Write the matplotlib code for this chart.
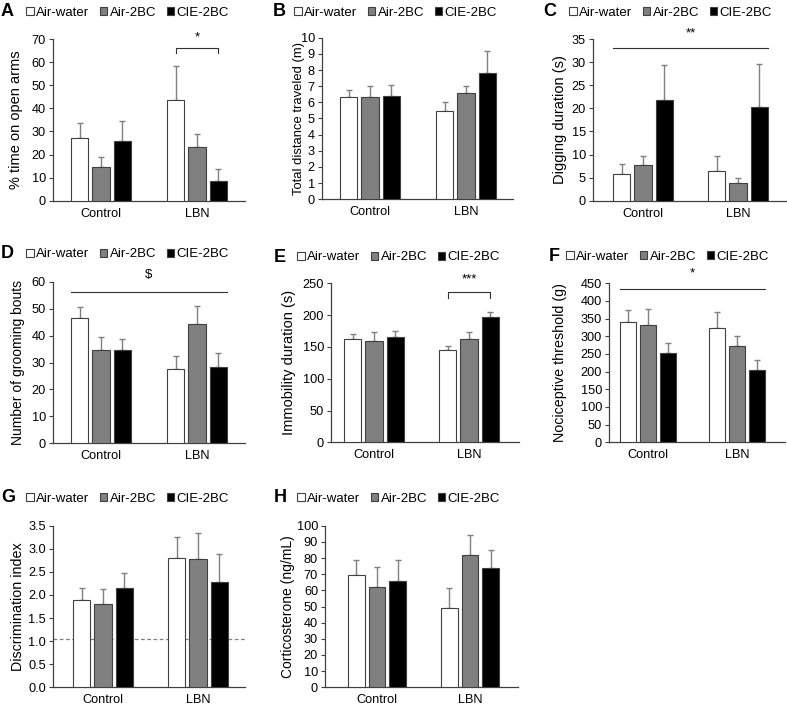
import matplotlib
matplotlib.use("Agg")
import matplotlib.pyplot as plt
from matplotlib.patches import Patch
import numpy as np

plt.rcParams["font.family"] = ["Liberation Sans", "DejaVu Sans"]

GROUPS = ["Control", "LBN"]
SERIES = ["Air-water", "Air-2BC", "CIE-2BC"]

# values per panel: rows = series (Air-water, Air-2BC, CIE-2BC), cols = groups
A_MEAN = [[27.0, 43.7], [14.7, 23.3], [25.7, 8.5]]
A_ERR = [[6.8, 14.5], [4.1, 5.7], [8.8, 5.3]]
B_MEAN = [[6.35, 5.45], [6.35, 6.6], [6.4, 7.8]]
B_ERR = [[0.4, 0.55], [0.65, 0.4], [0.7, 1.4]]
C_MEAN = [[5.7, 6.4], [7.7, 3.8], [21.9, 20.3]]
C_ERR = [[2.3, 3.2], [2.0, 1.1], [7.4, 9.2]]
D_MEAN = [[46.5, 27.5], [34.5, 44.2], [34.5, 28.2]]
D_ERR = [[4.0, 5.0], [4.8, 6.8], [4.2, 5.5]]
E_MEAN = [[163, 145], [159, 163], [166, 197]]
E_ERR = [[8, 6], [15, 10], [9, 8]]
F_MEAN = [[340, 323], [333, 273], [252, 206]]
F_ERR = [[35, 46], [45, 27], [30, 28]]
G_MEAN = [[1.88, 2.80], [1.80, 2.78], [2.15, 2.27]]
G_ERR = [[0.27, 0.45], [0.32, 0.57], [0.33, 0.61]]
H_MEAN = [[69.5, 49.0], [62.0, 82.0], [65.5, 74.0]]
H_ERR = [[9.5, 12.5], [12.5, 12.5], [13.0, 11.0]]

W, H = 787, 707
FILLS = ["white", "#808080", "black"]
EDGE = "#404040"
ERR_COLOR = "#808080"
STEP = 0.222
BAR_W = 0.18


def fig_rect(left, top, right, bottom):
    return [left / W, 1 - bottom / H, (right - left) / W, (bottom - top) / H]


def panel(fig, box, centers, means, errs, ymax, ystep, ylabel, label_right, label_size,
          letter, letter_xy, legend_xy, fmt=None):
    left, top, right, bottom = box
    ax = fig.add_axes(fig_rect(*box))
    c0, c1 = centers
    span = c1 - c0
    ax.set_xlim(-(c0 - left) / span, 1 + (right - c1) / span)
    ax.set_ylim(0, ymax)

    x = np.arange(len(GROUPS))
    for i, (m, e) in enumerate(zip(means, errs)):
        xs = x + (i - 1) * STEP
        ax.bar(xs, m, width=BAR_W, color=FILLS[i], edgecolor=EDGE, linewidth=0.8, zorder=3)
        ax.errorbar(xs, m, yerr=[np.zeros(len(e)), e], fmt="none", ecolor=ERR_COLOR,
                    elinewidth=1.0, capsize=2.5, capthick=1.0, zorder=2)

    yt = np.arange(0, ymax + ystep / 2, ystep)
    ax.set_yticks(yt)
    if fmt:
        ax.set_yticklabels([fmt % v for v in yt])
    ax.set_xticks(x)
    ax.set_xticklabels(GROUPS)
    ax.tick_params(axis="x", length=0, pad=5, labelsize=9.2)
    ax.tick_params(axis="y", length=3, width=0.8, color=EDGE, pad=2, labelsize=9.2)
    for s in ("top", "right"):
        ax.spines[s].set_visible(False)
    for s in ("left", "bottom"):
        ax.spines[s].set_color(EDGE)
        ax.spines[s].set_linewidth(0.9)

    ax.set_ylabel(ylabel, fontsize=label_size)
    ax.yaxis.set_label_coords((label_right - left) / (right - left), 0.5)

    fig.text(letter_xy[0] / W, 1 - letter_xy[1] / H, letter, fontsize=13,
             fontweight="bold", ha="left", va="center")
    handles = [Patch(facecolor=FILLS[i], edgecolor=EDGE, linewidth=0.8) for i in range(3)]
    fig.legend(handles, SERIES, loc="center left",
               bbox_to_anchor=(legend_xy[0] / W, 1 - legend_xy[1] / H),
               ncol=3, frameon=False, fontsize=9.5, borderpad=0, borderaxespad=0,
               handlelength=0.6, handleheight=0.6, handletextpad=0.15, columnspacing=0.8)
    return ax


def sig_line(ax, x0, x1, y, text, ty, drop=None):
    if drop is None:
        ax.plot([x0, x1], [y, y], color="#303030", lw=0.8, clip_on=False)
    else:
        ax.plot([x0, x0, x1, x1], [drop, y, y, drop], color="#303030", lw=0.8, clip_on=False)
    ax.text((x0 + x1) / 2, ty, text, ha="center", va="center", fontsize=9.5, clip_on=False)


fig = plt.figure(figsize=(W / 100, H / 100), dpi=100)

edge_l = -STEP - BAR_W / 2
edge_r = 1 + STEP + BAR_W / 2

ax = panel(fig, (52.7, 39, 245, 200.7), (101, 197), A_MEAN, A_ERR, 70, 10,
           "% time on open arms", 23, 10.5, "A", (1, 12), (26, 12.5))
sig_line(ax, 1 - STEP, 1 + STEP, 66, "*", 70.5, drop=63.8)

panel(fig, (321.7, 37.7, 513, 199.3), (370, 466), B_MEAN, B_ERR, 10, 1,
      "Total distance traveled (m)", 305, 9.4, "B", (273, 12), (294, 12.5))

ax = panel(fig, (593, 39, 786, 200.7), (643, 738), C_MEAN, C_ERR, 35, 5,
           "Digging duration (s)", 567, 10.5, "C", (543, 12), (569, 12.5))
sig_line(ax, edge_l, edge_r, 33, "**", 36.3)

ax = panel(fig, (52.7, 281.7, 245, 443.3), (101, 197), D_MEAN, D_ERR, 60, 10,
           "Number of grooming bouts", 25, 10, "D", (1, 254), (26, 254.5))
sig_line(ax, edge_l, edge_r, 56.1, "$", 62.4)

ax = panel(fig, (331, 283.3, 519, 442.3), (374, 469), E_MEAN, E_ERR, 250, 50,
           "Immobility duration (s)", 296, 10.5, "E", (274, 257), (297, 257.5))
sig_line(ax, 1 - STEP, 1 + STEP, 236, "***", 256, drop=227)

ax = panel(fig, (609, 283.3, 785, 442.3), (648, 737), F_MEAN, F_ERR, 450, 50,
           "Nociceptive threshold (g)", 567, 10.3, "F", (549, 256), (566, 256.5))
sig_line(ax, edge_l, edge_r, 434, "*", 478)

ax = panel(fig, (52.7, 525.7, 245, 687.3), (103, 198), G_MEAN, G_ERR, 3.5, 0.5,
           "Discrimination index", 25, 10.3, "G", (1, 498), (26, 498.5), fmt="%.1f")
ax.axhline(1.04, color="#808080", ls=(0, (3, 2)), lw=0.9, zorder=1)

panel(fig, (325, 525.7, 518, 687.3), (377, 470), H_MEAN, H_ERR, 100, 10,
      "Corticosterone (ng/mL)", 295, 10, "H", (274, 498), (297, 498.5))

fig.savefig("out.png", dpi=100)
